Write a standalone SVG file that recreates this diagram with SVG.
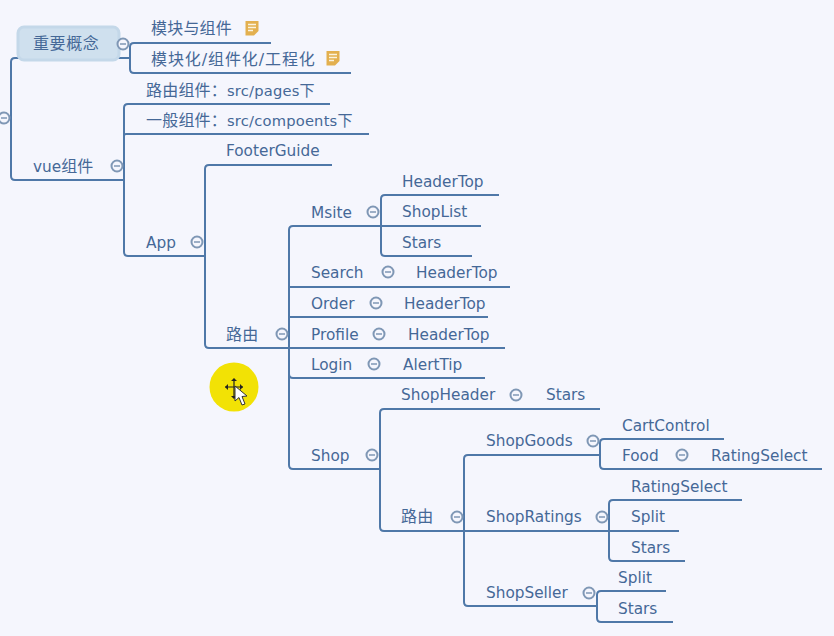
<svg xmlns="http://www.w3.org/2000/svg" width="834" height="636" viewBox="0 0 834 636">
<defs>
<style>
.c{fill:none;stroke:#4f78a8;stroke-width:2}
text{font-family:"DejaVu Sans","Noto Sans CJK SC",sans-serif;font-size:15.300px;fill:#456897}
text.z{font-size:16px;letter-spacing:.2px}
text.w{letter-spacing:.9px}
.n{font-size:14.700px}
.y{font-size:15px}
.t circle{fill:#f5f6fd;stroke:#7f97b5;stroke-width:2}
.t path{stroke:#7f97b5;stroke-width:1.500;fill:none}
</style>
<g id="tg" class="t"><circle r="5.500"/><path d="M-3 0H3"/></g>
<g id="note"><path d="M-6.500 -7H6.500V3L2 7.500H-6.500Z" fill="#e3b04f"/><path d="M-4 -3.500H4M-4 -0.500H4M-4 2.500H1" stroke="#fbf3df" stroke-width="1.500" fill="none"/></g>
</defs>
<rect width="834" height="636" fill="#f5f6fd"/>
<g id="connectors" class="c">
<path d="M130 58H15Q11 58 11 62V176Q11 180 15 180H124"/>
<path d="M271 43H134Q130 43 130 47V69Q130 73 134 73H351M119 58H130"/>
<path d="M330 104H128Q124 104 124 108V252Q124 256 128 256H205M369 134H126Q124 134 124 136"/>
<path d="M332 165H209Q205 165 205 169V344Q205 348 209 348H505"/>
<path d="M381 226H293Q289 226 289 230V465Q289 469 293 469H380M510 287H289M488 317H289M485 378H293Q289 378 289 374"/>
<path d="M499 195H385Q381 195 381 199V252Q381 256 385 256H472M481 226H381"/>
<path d="M600 409H384Q380 409 380 413V527Q380 531 384 531H679"/>
<path d="M600 455H468Q464 455 464 459V602Q464 606 468 606H597"/>
<path d="M724 439H604Q600 439 600 443V465Q600 469 604 469H822"/>
<path d="M742 500H613Q609 500 609 504V557Q609 561 613 561H685"/>
<path d="M666 591H601Q597 591 597 595V618Q597 622 601 622H673"/>
</g>
<g id="toggle-root"><use href="#tg" x="4" y="118"/></g>
<g id="n-concept">
<rect x="18" y="27" width="101" height="33" rx="6" fill="#cfe0ee" stroke="#c4d8e9" stroke-width="3"/>
<text class="z" x="33" y="49" style="letter-spacing:.6px">重要概念</text><use href="#tg" x="123" y="44"/>
</g>
<g id="n-module"><text class="z" x="151" y="34">模块与组件</text><use href="#note" x="252" y="28"/></g>
<g id="n-modular"><text class="z w" x="151" y="65">模块化/组件化/工程化</text><use href="#note" x="333" y="58"/></g>
<g id="n-vue"><text x="33" y="172">vue<tspan style="font-size:16px">组件</tspan></text><use href="#tg" x="117" y="166"/></g>
<g id="n-route-comp"><text class="z" x="146" y="96">路由组件：<tspan class="n">src/pages</tspan><tspan class="y">下</tspan></text></g>
<g id="n-general-comp"><text class="z" x="146" y="126">一般组件：<tspan class="n">src/compoents</tspan><tspan class="y">下</tspan></text></g>
<g id="n-app"><text x="146" y="248">App</text><use href="#tg" x="197" y="242"/></g>
<g id="n-footer"><text x="226" y="156">FooterGuide</text></g>
<g id="n-route1"><text class="z" x="226" y="340">路由</text><use href="#tg" x="282" y="334"/></g>
<g id="n-msite"><text x="311" y="218">Msite</text><use href="#tg" x="373" y="212"/></g>
<g id="n-msite-h"><text x="402" y="187">HeaderTop</text></g>
<g id="n-msite-l"><text x="402" y="217">ShopList</text></g>
<g id="n-msite-s"><text x="402" y="248">Stars</text></g>
<g id="n-search"><text x="311" y="278">Search</text><use href="#tg" x="388" y="272"/><text x="416" y="278">HeaderTop</text></g>
<g id="n-order"><text x="311" y="309">Order</text><use href="#tg" x="376" y="303"/><text x="404" y="309">HeaderTop</text></g>
<g id="n-profile"><text x="311" y="340">Profile</text><use href="#tg" x="379" y="334"/><text x="408" y="340">HeaderTop</text></g>
<g id="n-login"><text x="311" y="370">Login</text><use href="#tg" x="374" y="364"/><text x="403" y="370">AlertTip</text></g>
<g id="n-shop"><text x="311" y="461">Shop</text><use href="#tg" x="372" y="455"/></g>
<g id="n-shopheader"><text x="401" y="400">ShopHeader</text><use href="#tg" x="516" y="395"/><text x="546" y="400">Stars</text></g>
<g id="n-route2"><text class="z" x="401" y="522">路由</text><use href="#tg" x="457" y="517"/></g>
<g id="n-goods"><text x="486" y="446">ShopGoods</text><use href="#tg" x="593" y="441"/></g>
<g id="n-cart"><text x="622" y="431">CartControl</text></g>
<g id="n-food"><text x="622" y="461">Food</text><use href="#tg" x="682" y="455"/><text x="711" y="461">RatingSelect</text></g>
<g id="n-ratings"><text x="486" y="522">ShopRatings</text><use href="#tg" x="602" y="517"/></g>
<g id="n-r-select"><text x="631" y="492">RatingSelect</text></g>
<g id="n-r-split"><text x="631" y="522">Split</text></g>
<g id="n-r-stars"><text x="631" y="553">Stars</text></g>
<g id="n-seller"><text x="486" y="598">ShopSeller</text><use href="#tg" x="589" y="593"/></g>
<g id="n-s-split"><text x="618" y="583">Split</text></g>
<g id="n-s-stars"><text x="618" y="614">Stars</text></g>
<g id="cursor">
<circle cx="234" cy="387" r="24.500" fill="#f2e205"/>
<path d="M234 379V397M225 387H243" stroke="#222" stroke-width="1.200"/>
<path d="M231 381L234 378L237 381ZM231 396L234 399L237 396ZM228 384L225 387L228 390ZM240 384L243 387L240 390Z" fill="#222"/>
<path d="M235 386V401L239 397.500L242 405L245 404L242 396.500L247 396Z" fill="#fff" stroke="#333"/>
</g>
</svg>
